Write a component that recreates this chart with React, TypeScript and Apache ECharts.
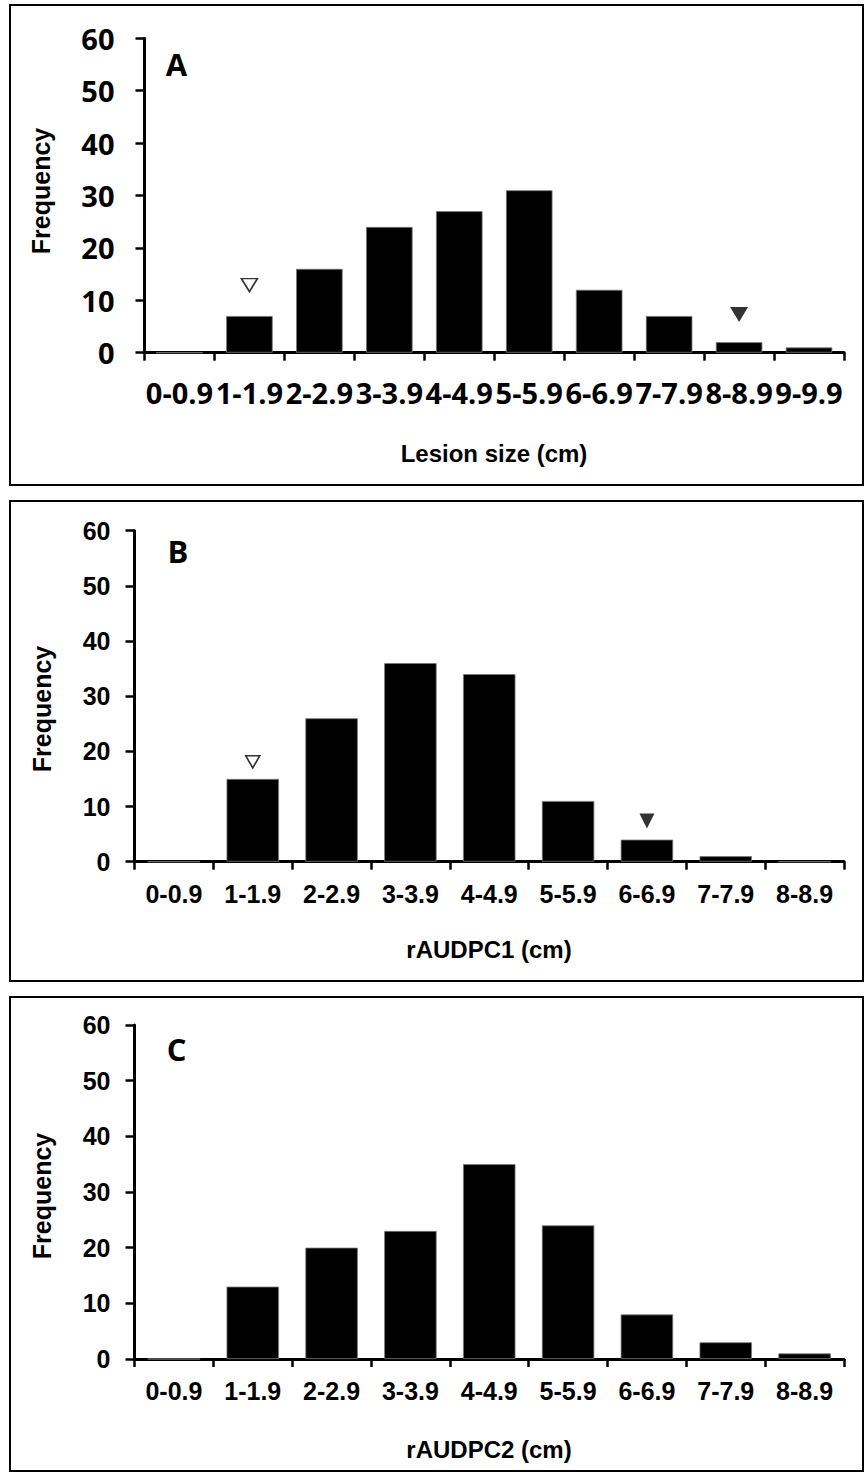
import React, { useEffect, useRef } from "react";
import * as echarts from "echarts";

// ---- data ----
const catsA = ["0-0.9", "1-1.9", "2-2.9", "3-3.9", "4-4.9", "5-5.9", "6-6.9", "7-7.9", "8-8.9", "9-9.9"];
const freqA = [0, 7, 16, 24, 27, 31, 12, 7, 2, 1];

const catsBC = ["0-0.9", "1-1.9", "2-2.9", "3-3.9", "4-4.9", "5-5.9", "6-6.9", "7-7.9", "8-8.9"];
const freqB = [0, 15, 26, 36, 34, 11, 4, 1, 0];
const freqC = [0, 13, 20, 23, 35, 24, 8, 3, 1];

const yMin = 0;
const yMax = 60;
const yStep = 10;

// triangle markers (category, frequency level)
const openMarkA = [["1-1.9", 12.9]];
const filledMarkA = [["8-8.9", 7.3]];
const openMarkB = [["1-1.9", 18.1]];
const filledMarkB = [["6-6.9", 7.4]];

const panelLetters = ["A", "B", "C"];
const xTitles = ["Lesion size (cm)", "rAUDPC1 (cm)", "rAUDPC2 (cm)"];
const yTitle = "Frequency";

const CAL = '"Open Sans", "Noto Sans", sans-serif';
const ARIAL = '"Liberation Sans", Arial, sans-serif';
const TRI = "path://M0,0L20,0L10,17Z";

export default function App() {
  const ref = useRef<HTMLDivElement>(null);

  useEffect(() => {
    if (!ref.current) return;
    const chart = echarts.init(ref.current, undefined, { renderer: "svg" });

    const grids = [
      { left: 144.5, top: 38.3, width: 699.5, height: 314.4 },
      { left: 134.5, top: 530.7, width: 709.5, height: 331 },
      { left: 134.5, top: 1025, width: 709.5, height: 334 },
    ];
    const fonts = [CAL, ARIAL, ARIAL];
    const tickSize = [29, 25, 25];
    const yMargin = [30, 24, 24];
    const xMargin = [25, 20, 19];
    const cats = [catsA, catsBC, catsBC];
    const vals = [freqA, freqB, freqC];

    const xAxis = grids.map((_, i) => ({
      type: "category",
      gridIndex: i,
      data: cats[i],
      axisLine: { lineStyle: { color: "#000", width: 3 } },
      axisTick: { show: true, length: 8, lineStyle: { color: "#000", width: 2.5 } },
      axisLabel: {
        interval: 0,
        color: "#000",
        fontFamily: fonts[i],
        fontWeight: "bold",
        fontSize: tickSize[i],
        margin: xMargin[i],
      },
    }));
    const yAxis = grids.map((_, i) => ({
      type: "value",
      gridIndex: i,
      min: yMin,
      max: yMax,
      interval: yStep,
      splitLine: { show: false },
      axisLine: { show: true, lineStyle: { color: "#000", width: 3 } },
      axisTick: { show: true, length: 9, lineStyle: { color: "#000", width: 2.5 } },
      axisLabel: {
        color: "#000",
        fontFamily: fonts[i],
        fontWeight: "bold",
        fontSize: tickSize[i],
        margin: yMargin[i],
      },
    }));

    const barSeries = vals.map((v, i) => ({
      type: "bar",
      xAxisIndex: i,
      yAxisIndex: i,
      data: v,
      barWidth: "66.5%",
      itemStyle: { color: "#000", borderColor: "#777", borderWidth: 0.8 },
      silent: true,
    }));

    const triStyleOpen = { color: "#fff", borderColor: "#000", borderWidth: 1.6 };
    const triStyleFilled = { color: "#000" };
    const markerSeries = [
      { data: openMarkA, idx: 0, size: [16, 13], style: triStyleOpen },
      { data: filledMarkA, idx: 0, size: [18, 15], style: triStyleFilled },
      { data: openMarkB, idx: 1, size: [14, 12], style: triStyleOpen },
      { data: filledMarkB, idx: 1, size: [15, 15], style: triStyleFilled },
    ].map((m) => ({
      type: "scatter",
      xAxisIndex: m.idx,
      yAxisIndex: m.idx,
      data: m.data,
      symbol: TRI,
      symbolSize: m.size,
      itemStyle: m.style,
      z: 5,
      silent: true,
    }));

    const boxes = [
      { y: 5, h: 480 },
      { y: 501, h: 480 },
      { y: 997, h: 474 },
    ];
    const letterPos = [
      [176.5, 64],
      [178, 550.5],
      [176.5, 1048.5],
    ];
    const yTitlePos = [
      [41, 191],
      [42, 709],
      [42, 1196],
    ];
    const xTitlePos = [
      [494, 453],
      [489, 949],
      [489, 1449],
    ];

    const txt = (text: string, x: number, y: number, font: string, rotation = 0) => ({
      type: "text",
      x,
      y,
      rotation,
      z: 10,
      style: {
        text,
        font,
        fill: "#000",
        align: "center",
        verticalAlign: "middle",
        textAlign: "center",
        textVerticalAlign: "middle",
      },
    });

    const graphic: any[] = [];
    boxes.forEach((b) => {
      graphic.push({
        type: "rect",
        shape: { x: 10, y: b.y, width: 853, height: b.h },
        style: { fill: "none", stroke: "#000", lineWidth: 2 },
        z: 1,
      });
    });
    panelLetters.forEach((l, i) => {
      graphic.push(txt(l, letterPos[i][0], letterPos[i][1], `bold 31px ${CAL}`));
    });
    yTitlePos.forEach((p) => {
      graphic.push(txt(yTitle, p[0], p[1], `bold 25px ${ARIAL}`, Math.PI / 2));
    });
    xTitles.forEach((t, i) => {
      graphic.push(txt(t, xTitlePos[i][0], xTitlePos[i][1], `bold 24px ${ARIAL}`));
    });

    chart.setOption({
      animation: false,
      backgroundColor: "#fff",
      grid: grids,
      xAxis,
      yAxis,
      series: [...barSeries, ...markerSeries],
      graphic,
    } as any);

    return () => chart.dispose();
  }, []);

  return (
    <div
      ref={ref}
      style={{ position: "absolute", left: 0, top: 0, width: 865, height: 1473, background: "#fff" }}
    />
  );
}
